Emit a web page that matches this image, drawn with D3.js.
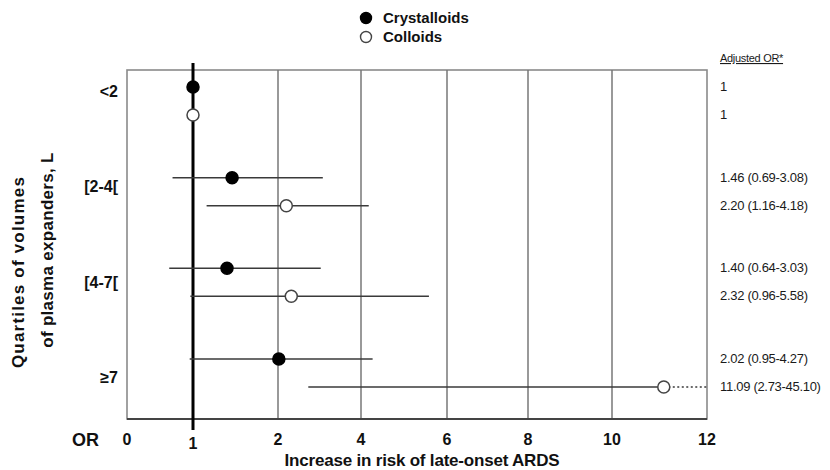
<!DOCTYPE html>
<html>
<head>
<meta charset="utf-8">
<script src="https://cdn.jsdelivr.net/npm/d3@7"></script>
<style>
  html, body { margin: 0; padding: 0; background: #fff; }
  svg { display: block; }
  .bold { font-family: "Liberation Sans", Arial, sans-serif; font-weight: bold; fill: #111; }
  .small { font-family: "Liberation Sans", Arial, sans-serif; fill: #1a1a1a; }
</style>
</head>
<body>
<svg id="chart" width="830" height="470"></svg>
<script>
// Quartiles of plasma expander volume (L)
const groups = ["<2", "[2-4[", "[4-7[", "≥7"];

// Adjusted odds ratios with 95% CI, crystalloids
const crystalloidOR = [1, 1.46, 1.40, 2.02];
const crystalloidLo = [null, 0.69, 0.64, 0.95];
const crystalloidHi = [null, 3.08, 3.03, 4.27];

// Adjusted odds ratios with 95% CI, colloids
const colloidOR = [1, 2.20, 2.32, 11.09];
const colloidLo = [null, 1.16, 0.96, 2.73];
const colloidHi = [null, 4.18, 5.58, 45.10];

// Axis ticks (the OR axis is stretched between 0 and 2)
const xTicks = [0, 1, 2, 4, 6, 8, 10, 12];
const gridTicks = [2, 4, 6, 8, 10];

const seriesNames = ["Crystalloids", "Colloids"];

const svg = d3.select("#chart");
const plotL = 127, plotR = 707, plotT = 70, plotB = 419;

const x = d3.scaleLinear()
  .domain(xTicks)
  .range([127, 193, 278, 361, 447, 528, 612, 707]);
const xMax = xTicks[xTicks.length - 1];

const yGroup = d3.scalePoint().domain(groups).range([101, 373]);
const yLabel = d3.scalePoint().domain(groups).range([92, 378]);
const offset = 14;

const fmt = v => v.toFixed(2);

// plot frame
svg.append("rect")
  .attr("x", plotL).attr("y", plotT)
  .attr("width", plotR - plotL).attr("height", plotB - plotT)
  .attr("fill", "none").attr("stroke", "#8a8a8a").attr("stroke-width", 1.6);

// vertical grid lines
svg.append("g").selectAll("line").data(gridTicks).join("line")
  .attr("x1", d => x(d)).attr("x2", d => x(d))
  .attr("y1", plotT).attr("y2", plotB)
  .attr("stroke", "#777").attr("stroke-width", 1.5);

// bottom axis line
svg.append("line")
  .attr("x1", plotL).attr("x2", plotR).attr("y1", plotB).attr("y2", plotB)
  .attr("stroke", "#444").attr("stroke-width", 2.2);

// reference line at OR = 1
svg.append("line")
  .attr("x1", x(1)).attr("x2", x(1)).attr("y1", 63).attr("y2", 430)
  .attr("stroke", "#000").attr("stroke-width", 3);

// tick labels
svg.append("g").selectAll("text").data(xTicks).join("text")
  .attr("class", "bold")
  .attr("x", d => x(d))
  .attr("y", d => d === 1 ? 449 : 445)
  .attr("text-anchor", "middle")
  .attr("font-size", 16)
  .text(d => d);

svg.append("text").attr("class", "bold")
  .attr("x", 72).attr("y", 446).attr("font-size", 18).text("OR");

svg.append("text").attr("class", "bold")
  .attr("x", 422).attr("y", 466).attr("text-anchor", "middle")
  .attr("font-size", 17).attr("letter-spacing", -0.2)
  .text("Increase in risk of late-onset ARDS");

// y group labels
svg.append("g").selectAll("text").data(groups).join("text")
  .attr("class", "bold")
  .attr("x", 118)
  .attr("y", d => yLabel(d) + 5)
  .attr("text-anchor", "end")
  .attr("font-size", 16)
  .text(d => d);

// y axis title
const yTitle = svg.append("g").attr("class", "bold").attr("font-size", 17);
yTitle.append("text")
  .attr("text-anchor", "middle").attr("letter-spacing", 1.2)
  .attr("transform", "translate(24,272) rotate(-90)")
  .text("Quartiles of volumes");
yTitle.append("text")
  .attr("text-anchor", "middle").attr("letter-spacing", 0.3)
  .attr("transform", "translate(53,250) rotate(-90)")
  .text("of plasma expanders, L");

// build row records
const rows = [];
groups.forEach((g, i) => {
  rows.push({ g, s: 0, or: crystalloidOR[i], lo: crystalloidLo[i], hi: crystalloidHi[i], y: yGroup(g) - offset });
  rows.push({ g, s: 1, or: colloidOR[i], lo: colloidLo[i], hi: colloidHi[i], y: yGroup(g) + offset });
});

// confidence intervals
const ci = rows.filter(r => r.lo !== null);
svg.append("g").selectAll("line").data(ci).join("line")
  .attr("x1", d => x(d.lo))
  .attr("x2", d => d.hi > xMax ? x(d.or) : x(d.hi))
  .attr("y1", d => d.y).attr("y2", d => d.y)
  .attr("stroke", "#3a3a3a").attr("stroke-width", 1.5);

// interval continuing past the axis end
svg.append("g").selectAll("line").data(ci.filter(d => d.hi > xMax)).join("line")
  .attr("x1", d => x(d.or)).attr("x2", x(xMax))
  .attr("y1", d => d.y).attr("y2", d => d.y)
  .attr("stroke", "#3a3a3a").attr("stroke-width", 1.5)
  .attr("stroke-dasharray", "2,2.5");

// point estimates
svg.append("g").selectAll("circle").data(rows).join("circle")
  .attr("cx", d => x(d.or)).attr("cy", d => d.y)
  .attr("r", 6)
  .attr("fill", d => d.s === 0 ? "#000" : "#fff")
  .attr("stroke", d => d.s === 0 ? "#000" : "#444")
  .attr("stroke-width", 1.5);

// right-hand OR labels
svg.append("text").attr("class", "small")
  .attr("x", 720).attr("y", 62).attr("font-size", 11)
  .attr("letter-spacing", -0.3)
  .attr("text-decoration", "underline")
  .text("Adjusted OR*");

svg.append("g").selectAll("text").data(rows).join("text")
  .attr("class", "small")
  .attr("x", 720).attr("y", d => d.y + 4)
  .attr("font-size", 13)
  .attr("letter-spacing", -0.3)
  .text(d => d.lo === null ? "1" : `${fmt(d.or)} (${fmt(d.lo)}-${fmt(d.hi)})`);

// legend
const legend = svg.append("g");
seriesNames.forEach((name, i) => {
  legend.append("circle")
    .attr("cx", 366).attr("cy", 18 + i * 19).attr("r", 5.5)
    .attr("fill", i === 0 ? "#000" : "#fff")
    .attr("stroke", i === 0 ? "#000" : "#444").attr("stroke-width", 1.4);
  legend.append("text").attr("class", "bold")
    .attr("x", 383).attr("y", 23 + i * 19)
    .attr("font-size", 15).text(name);
});
</script>
</body>
</html>
